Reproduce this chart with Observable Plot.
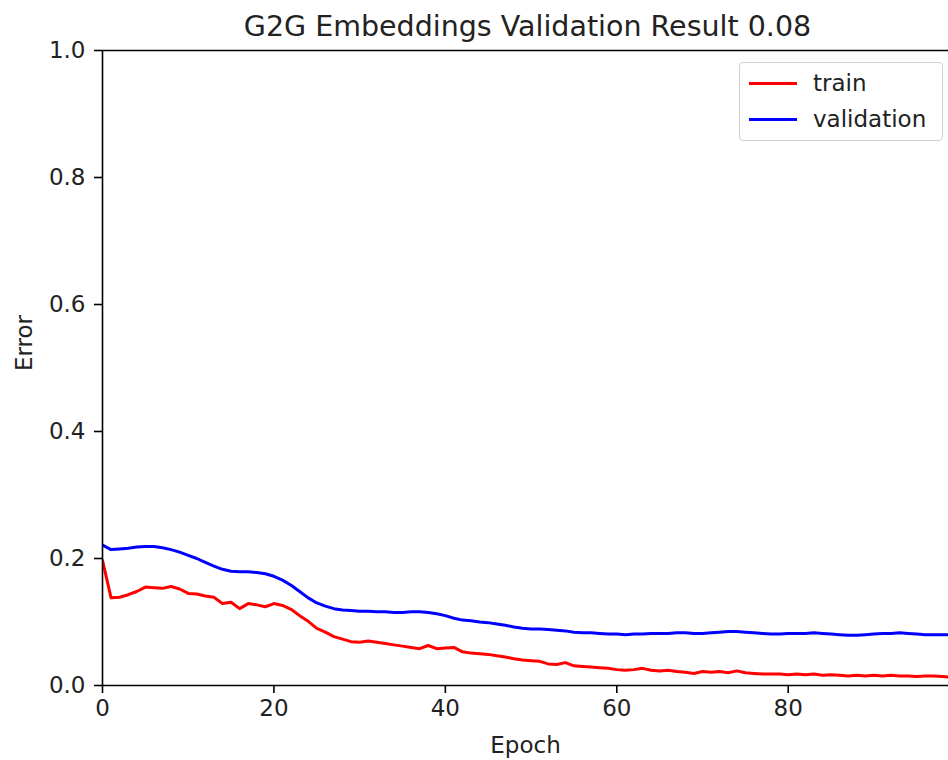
<!DOCTYPE html>
<html>
<head>
<meta charset="utf-8">
<script src="https://cdn.jsdelivr.net/npm/d3@7"></script>
<script src="https://cdn.jsdelivr.net/npm/@observablehq/plot@0.6"></script>
<style>
  html, body { margin: 0; padding: 0; background: #fff; }
  #wrap { position: relative; width: 948px; height: 760px; overflow: hidden; font-family: "DejaVu Sans", sans-serif; }
  #legend { position: absolute; left: 739px; top: 62px; width: 204px; height: 79px; box-sizing: border-box;
    border: 1px solid #d0d0d0; border-radius: 4px; background: rgba(255,255,255,0.85); font-size: 23px; color: #222; }
  .row { position: absolute; left: 9px; height: 20px; display: flex; align-items: center; }
  .sw { width: 48px; height: 0; border-top: 3px solid; margin-right: 16px; }
</style>
</head>
<body>
<div id="wrap"></div>
<script>
const title = "G2G Embeddings Validation Result 0.08";
const xLabel = "Epoch";
const yLabel = "Error";
const seriesNames = ["train", "validation"];
const seriesColors = ["#ff0000", "#0000ff"];
const xTicks = [0, 20, 40, 60, 80];
const yTicks = [0, 0.2, 0.4, 0.6, 0.8, 1.0];

const train = [
  0.197, 0.138, 0.139, 0.143, 0.148, 0.155, 0.154, 0.153, 0.156, 0.152,
  0.145, 0.144, 0.141, 0.139, 0.129, 0.131, 0.121, 0.129, 0.127, 0.124,
  0.129, 0.126, 0.120, 0.110, 0.101, 0.090, 0.084, 0.077, 0.073, 0.069,
  0.068, 0.070, 0.068, 0.066, 0.064, 0.062, 0.060, 0.058, 0.063, 0.058,
  0.059, 0.060, 0.053, 0.051, 0.050, 0.049, 0.047, 0.045, 0.042, 0.040,
  0.039, 0.038, 0.034, 0.033, 0.036, 0.031, 0.030, 0.029, 0.028, 0.027,
  0.025, 0.024, 0.025, 0.027, 0.024, 0.023, 0.024, 0.022, 0.021, 0.019,
  0.022, 0.021, 0.022, 0.020, 0.023, 0.020, 0.019, 0.018, 0.018, 0.018,
  0.017, 0.018, 0.017, 0.018, 0.016, 0.017, 0.016, 0.015, 0.016, 0.015,
  0.016, 0.015, 0.016, 0.015, 0.015, 0.014, 0.015, 0.015, 0.014, 0.013
];
const validation = [
  0.221, 0.214, 0.215, 0.216, 0.218, 0.219, 0.219, 0.217, 0.214, 0.210,
  0.205, 0.200, 0.194, 0.188, 0.183, 0.180, 0.179, 0.179, 0.178, 0.176,
  0.172, 0.166, 0.158, 0.148, 0.138, 0.130, 0.125, 0.121, 0.119, 0.118,
  0.117, 0.117, 0.116, 0.116, 0.115, 0.115, 0.116, 0.116, 0.115, 0.113,
  0.110, 0.106, 0.103, 0.102, 0.100, 0.099, 0.097, 0.095, 0.092, 0.090,
  0.089, 0.089, 0.088, 0.087, 0.086, 0.084, 0.083, 0.083, 0.082, 0.081,
  0.081, 0.080, 0.081, 0.081, 0.082, 0.082, 0.082, 0.083, 0.083, 0.082,
  0.082, 0.083, 0.084, 0.085, 0.085, 0.084, 0.083, 0.082, 0.081, 0.081,
  0.082, 0.082, 0.082, 0.083, 0.082, 0.081, 0.080, 0.079, 0.079, 0.080,
  0.081, 0.082, 0.082, 0.083, 0.082, 0.081, 0.080, 0.080, 0.080, 0.080
];

const rows = [];
[train, validation].forEach((arr, s) => arr.forEach((v, i) => rows.push({epoch: i, error: v, series: seriesNames[s]})));

const chart = Plot.plot({
  width: 948,
  height: 760,
  marginLeft: 102,
  marginRight: 0,
  marginTop: 50,
  marginBottom: 75,
  style: {fontFamily: "DejaVu Sans, sans-serif", fontSize: "23px", color: "#222", background: "#fff", overflow: "visible"},
  x: {domain: [0, 98.7]},
  y: {domain: [0, 1]},
  color: {domain: seriesNames, range: seriesColors},
  marks: [
    Plot.lineY(rows, {x: "epoch", y: "error", stroke: "series", strokeWidth: 3, clip: true}),
    Plot.ruleY([0, 1], {stroke: "#000", strokeWidth: 1.6}),
    Plot.ruleX([0], {stroke: "#000", strokeWidth: 1.6}),
    Plot.axisX({ticks: xTicks, tickSize: 8, tickPadding: 6, fontSize: 23, label: null, stroke: "#000", strokeWidth: 1.6}),
    Plot.axisY({ticks: yTicks, tickSize: 8, tickPadding: 9, tickFormat: d3.format(".1f"), fontSize: 23, label: null, stroke: "#000", strokeWidth: 1.6}),
    Plot.text([title], {frameAnchor: "top", lineAnchor: "middle", dx: 2, dy: -24, fontSize: 28.5, fill: "#222"}),
    Plot.text([xLabel], {frameAnchor: "bottom", lineAnchor: "middle", dy: 60, fontSize: 23, fill: "#222"}),
    Plot.text([yLabel], {frameAnchor: "left", lineAnchor: "middle", dx: -78, dy: 3, rotate: -90, fontSize: 23, fill: "#222"})
  ]
});
const wrap = document.getElementById("wrap");
wrap.appendChild(chart);

const legend = document.createElement("div");
legend.id = "legend";
seriesNames.forEach((name, i) => {
  const row = document.createElement("div");
  row.className = "row";
  row.style.top = (10 + i * 36) + "px";
  const sw = document.createElement("div");
  sw.className = "sw";
  sw.style.borderTopColor = seriesColors[i];
  const lab = document.createElement("span");
  lab.textContent = name;
  row.appendChild(sw);
  row.appendChild(lab);
  legend.appendChild(row);
});
wrap.appendChild(legend);
</script>
</body>
</html>
